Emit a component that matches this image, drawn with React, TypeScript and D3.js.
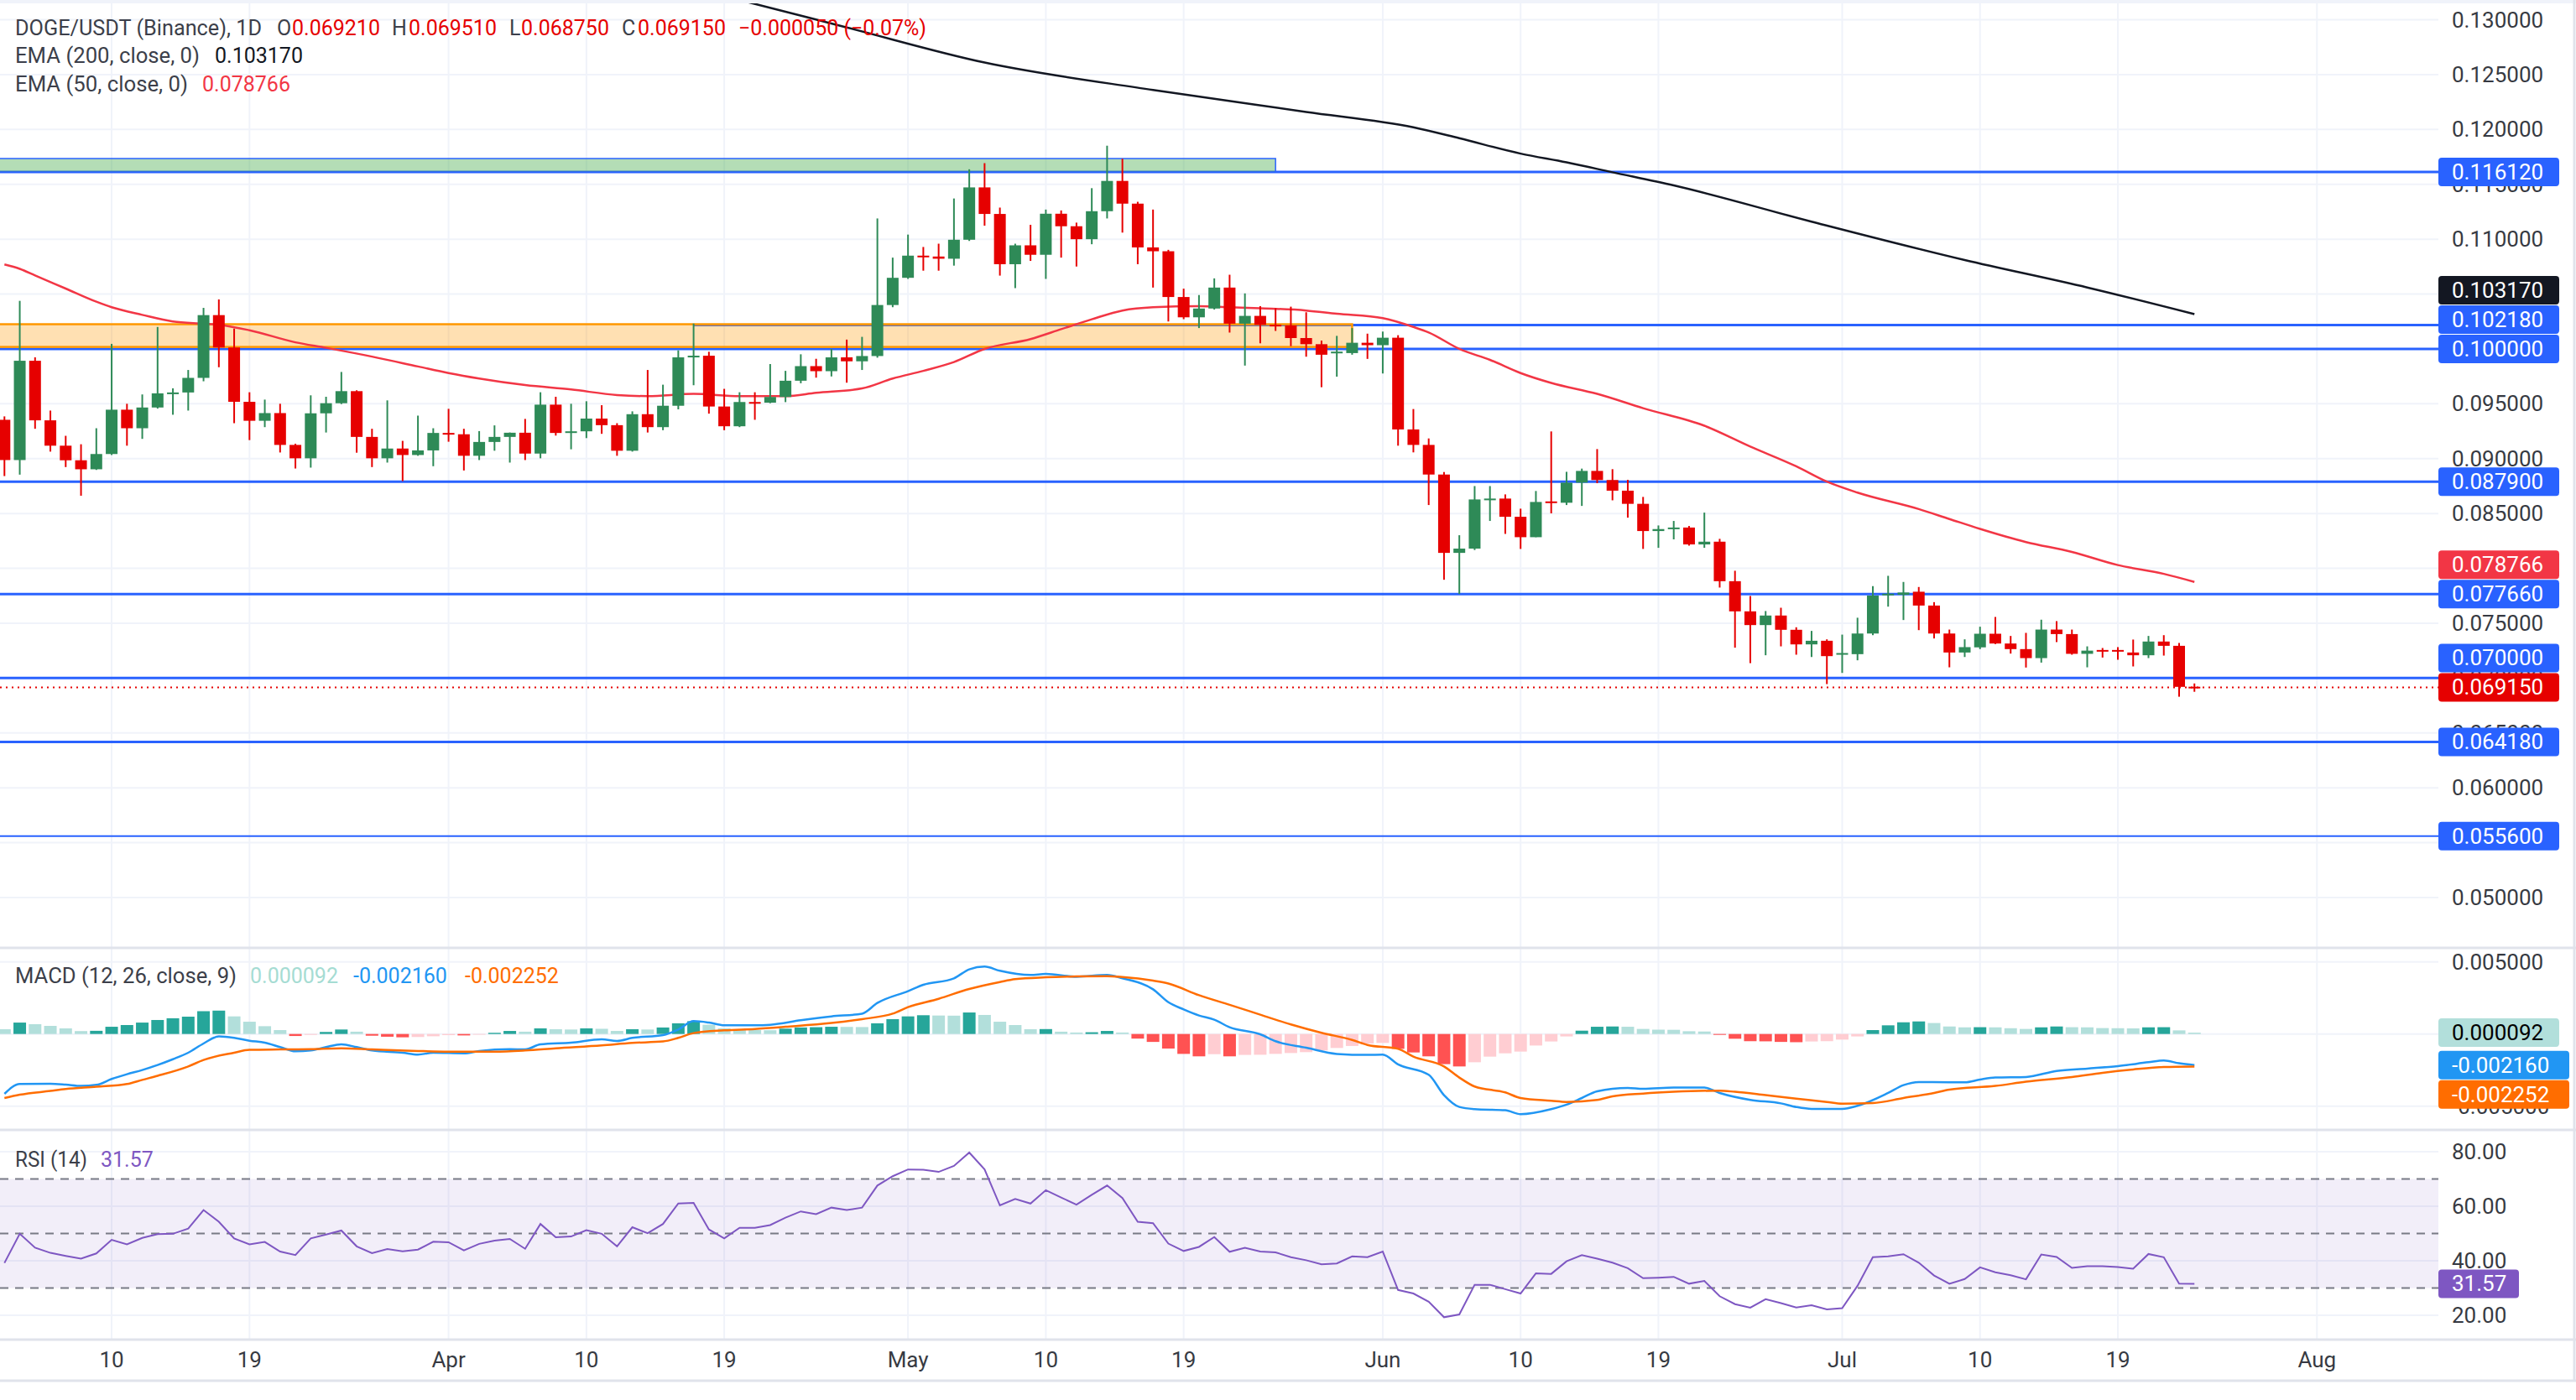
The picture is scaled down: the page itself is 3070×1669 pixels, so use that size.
import React from "react";
import * as d3 from "d3";

const W = 3070;
const H = 1669;
const PLOT_R = 2906;
const DAY = 86400000;
const START = Date.UTC(2023, 2, 3);
const FONT = "Roboto, 'Noto Sans', sans-serif";

const GREEN = "#2e8a57";
const RED = "#e60000";
const BLUE = "#2962ff";

// daily candles, starting 3 Mar
const opens = [
  0.09354, 0.08987, 0.09892, 0.09349, 0.09118, 0.08985, 0.08903, 0.09042, 0.09446, 0.09277,
  0.09466, 0.09595, 0.09603, 0.09736, 0.10308, 0.10013, 0.09518, 0.09345, 0.09415, 0.09125,
  0.09003, 0.09413, 0.09505, 0.09615, 0.09198, 0.09003, 0.09092, 0.09033, 0.09075, 0.09234,
  0.09222, 0.09026, 0.09152, 0.09198, 0.09236, 0.09046, 0.09492, 0.09234, 0.09249, 0.09365,
  0.09305, 0.09072, 0.09405, 0.09287, 0.09482, 0.09923, 0.09938, 0.09475, 0.09295, 0.09516,
  0.0951, 0.09562, 0.0971, 0.09843, 0.09797, 0.09923, 0.09887, 0.09935, 0.104, 0.10648,
  0.1085, 0.10842, 0.10822, 0.10995, 0.11472, 0.1123, 0.10772, 0.10944, 0.10858, 0.11232,
  0.11118, 0.11, 0.11255, 0.11531, 0.11324, 0.10925, 0.1089, 0.10473, 0.10288, 0.10368,
  0.10559, 0.1023, 0.10301, 0.1022, 0.10215, 0.10099, 0.10043, 0.0996, 0.09962, 0.10056,
  0.10034, 0.10102, 0.09266, 0.09125, 0.08855, 0.08141, 0.0818, 0.08628, 0.08636, 0.0847,
  0.08284, 0.0861, 0.08598, 0.08781, 0.08888, 0.08805, 0.08708, 0.08588, 0.0834, 0.08358,
  0.08372, 0.08218, 0.08243, 0.07883, 0.07608, 0.07483, 0.0757, 0.0744, 0.07307, 0.0734,
  0.07218, 0.07218, 0.07406, 0.07759, 0.07759, 0.07787, 0.07661, 0.07406, 0.07233, 0.0728,
  0.07404, 0.07315, 0.07264, 0.07182, 0.07442, 0.07401, 0.07221, 0.07256, 0.07256, 0.07233,
  0.07208, 0.07333, 0.07294, 0.06921,
];
const highs = [
  0.09385, 0.10438, 0.09923, 0.09438, 0.09208, 0.09131, 0.09277, 0.10046, 0.095, 0.09585,
  0.102, 0.09641, 0.09808, 0.10374, 0.10451, 0.10185, 0.09605, 0.09538, 0.095, 0.09136,
  0.09577, 0.09564, 0.0979, 0.09623, 0.09272, 0.09531, 0.09162, 0.09392, 0.09277, 0.09454,
  0.09272, 0.09251, 0.09303, 0.09238, 0.09362, 0.09605, 0.09564, 0.095, 0.09523, 0.09487,
  0.09323, 0.09431, 0.09808, 0.09674, 0.09987, 0.10231, 0.09974, 0.09636, 0.09605, 0.09605,
  0.09862, 0.098, 0.09951, 0.0991, 0.1, 0.10085, 0.1011, 0.11189, 0.10832, 0.11042,
  0.10929, 0.10959, 0.11371, 0.11637, 0.11693, 0.11288, 0.10959, 0.11131, 0.1127, 0.11262,
  0.11151, 0.11465, 0.11852, 0.11733, 0.11341, 0.1127, 0.10903, 0.10549, 0.10491, 0.10643,
  0.10676, 0.10506, 0.1039, 0.10372, 0.10385, 0.10334, 0.10076, 0.10119, 0.1019, 0.10139,
  0.10158, 0.10125, 0.09452, 0.09184, 0.08878, 0.08302, 0.0875, 0.0875, 0.08674, 0.08544,
  0.08705, 0.09248, 0.0888, 0.08909, 0.09087, 0.08904, 0.08807, 0.08651, 0.08391, 0.08432,
  0.08386, 0.08508, 0.08269, 0.07978, 0.07748, 0.07611, 0.07641, 0.07463, 0.0743, 0.07353,
  0.07396, 0.0755, 0.07838, 0.07932, 0.07876, 0.0783, 0.07692, 0.07442, 0.07353, 0.07468,
  0.07557, 0.07384, 0.07412, 0.07532, 0.07519, 0.07442, 0.07289, 0.07274, 0.07282, 0.07351,
  0.07384, 0.07391, 0.0732, 0.06951,
];
const lows = [
  0.08841, 0.08854, 0.09272, 0.09064, 0.08923, 0.08662, 0.08897, 0.09033, 0.09118, 0.0918,
  0.09456, 0.094, 0.09438, 0.09705, 0.09833, 0.09323, 0.09169, 0.09287, 0.09056, 0.0891,
  0.08918, 0.09238, 0.09497, 0.09054, 0.08923, 0.08964, 0.08795, 0.09026, 0.08931, 0.09154,
  0.08892, 0.08987, 0.09072, 0.08964, 0.08987, 0.09003, 0.0921, 0.09085, 0.09187, 0.09226,
  0.09026, 0.09064, 0.09238, 0.09259, 0.09449, 0.09669, 0.0941, 0.09259, 0.09287, 0.09354,
  0.09505, 0.09515, 0.09687, 0.09738, 0.09749, 0.09692, 0.09808, 0.0992, 0.1038, 0.10638,
  0.10713, 0.10713, 0.10759, 0.10984, 0.11123, 0.10668, 0.10554, 0.10802, 0.10638, 0.10832,
  0.10751, 0.10954, 0.11189, 0.1106, 0.10772, 0.10559, 0.1025, 0.10271, 0.1019, 0.10359,
  0.10149, 0.09848, 0.10051, 0.10164, 0.10025, 0.09929, 0.09651, 0.09747, 0.09947, 0.09909,
  0.09776, 0.09118, 0.09057, 0.08577, 0.07896, 0.07766, 0.08167, 0.08432, 0.08314, 0.08177,
  0.08284, 0.08501, 0.08577, 0.08569, 0.08776, 0.0862, 0.08462, 0.08177, 0.08187, 0.08264,
  0.08207, 0.08187, 0.07825, 0.07277, 0.07136, 0.07208, 0.07289, 0.07213, 0.07192, 0.06945,
  0.07047, 0.07162, 0.07391, 0.07651, 0.07529, 0.07437, 0.07361, 0.07098, 0.07192, 0.07264,
  0.0731, 0.07223, 0.07096, 0.07141, 0.07328, 0.07213, 0.07098, 0.07187, 0.07167, 0.07106,
  0.07182, 0.07205, 0.0683, 0.06875,
];
const closes = [
  0.08987, 0.09892, 0.09349, 0.09118, 0.08985, 0.08903, 0.09042, 0.09446, 0.09277, 0.09466,
  0.09595, 0.09603, 0.09736, 0.10308, 0.10013, 0.09518, 0.09345, 0.09415, 0.09125, 0.09003,
  0.09413, 0.09505, 0.09615, 0.09198, 0.09003, 0.09092, 0.09033, 0.09075, 0.09234, 0.09222,
  0.09026, 0.09152, 0.09198, 0.09236, 0.09046, 0.09492, 0.09234, 0.09249, 0.09365, 0.09305,
  0.09072, 0.09405, 0.09287, 0.09482, 0.09923, 0.09938, 0.09475, 0.09295, 0.09516, 0.0951,
  0.09562, 0.0971, 0.09843, 0.09797, 0.09923, 0.09887, 0.09935, 0.104, 0.10648, 0.1085,
  0.10842, 0.10822, 0.10995, 0.11472, 0.1123, 0.10772, 0.10944, 0.10858, 0.11232, 0.11118,
  0.11, 0.11255, 0.11531, 0.11324, 0.10925, 0.1089, 0.10473, 0.10288, 0.10368, 0.10559,
  0.1023, 0.10301, 0.1022, 0.10215, 0.10099, 0.10043, 0.09947, 0.09975, 0.10056, 0.10034,
  0.10102, 0.09266, 0.09125, 0.08855, 0.08141, 0.0818, 0.08628, 0.08636, 0.0847, 0.08284,
  0.08605, 0.08598, 0.08781, 0.08888, 0.08805, 0.08708, 0.08588, 0.0834, 0.08358, 0.08372,
  0.08218, 0.08243, 0.07883, 0.07608, 0.07483, 0.0757, 0.0744, 0.07307, 0.0734, 0.072,
  0.07228, 0.07406, 0.07752, 0.07769, 0.0778, 0.07661, 0.07406, 0.07233, 0.07282, 0.07404,
  0.07315, 0.07264, 0.07182, 0.07442, 0.07401, 0.07221, 0.0725, 0.07246, 0.07246, 0.07208,
  0.07333, 0.07294, 0.0692, 0.06915,
];

// [day index, value] readings of the moving averages
const ema50: [number, number][] = [
  [0, 0.1077], [1, 0.1073], [2, 0.1067], [4, 0.1055], [6, 0.1043], [7, 0.1038], [9, 0.1031],
  [11, 0.1025], [13, 0.1023], [14, 0.1022], [16, 0.1017], [19, 0.1006], [21, 0.1001], [24, 0.0993],
  [27, 0.0984], [29, 0.0978], [31, 0.0973], [34, 0.0967], [37, 0.0963], [40, 0.0958], [42, 0.0957],
  [45, 0.0959], [48, 0.0957], [51, 0.0957], [53, 0.096], [56, 0.0964], [58, 0.0973], [60, 0.098],
  [62, 0.0988], [64, 0.1], [67, 0.1009], [69, 0.1018], [71, 0.1027], [73, 0.1035], [75, 0.1038],
  [78, 0.1039], [80, 0.1038], [82, 0.1037], [85, 0.1035], [87, 0.1032], [90, 0.1028], [92, 0.102],
  [93, 0.1015], [95, 0.1], [97, 0.099], [99, 0.0978], [101, 0.0969], [104, 0.0959], [107, 0.0946],
  [111, 0.093], [114, 0.0911], [117, 0.0893], [119, 0.0879], [121, 0.0869], [125, 0.0854],
  [127, 0.0845], [129, 0.0836], [132, 0.0824], [135, 0.0815], [138, 0.0803], [141, 0.0795],
  [143, 0.078766],
];
const ema200: [number, number][] = [
  [40, 0.1345], [48, 0.1318], [55, 0.1293], [64, 0.1261], [75, 0.1236], [85, 0.1216],
  [92, 0.1202], [95, 0.1192], [99, 0.1178], [102, 0.117], [105, 0.1161], [109, 0.1149],
  [118, 0.1116], [128, 0.1081], [136, 0.1056], [143, 0.10317],
];

const macdHist = [
  0.00033, 0.00079, 0.00068, 0.00056, 0.00039, 0.0002, 0.00022, 0.0005, 0.00062, 0.00079,
  0.00097, 0.00109, 0.0012, 0.00158, 0.00162, 0.00122, 0.00085, 0.00054, 0.00027, -0.00014,
  -0.00006, 0.00014, 0.00031, 0.00016, -0.00012, -0.00019, -0.00023, -0.00021, -0.00016, -0.00008,
  -0.0001, -0.00005, 0.00008, 0.00021, 0.00016, 0.00039, 0.00033, 0.00031, 0.00039, 0.00036,
  0.00021, 0.00033, 0.00031, 0.00045, 0.00074, 0.00089, 0.00064, 0.00039, 0.00028, 0.00027,
  0.00026, 0.00037, 0.00045, 0.00047, 0.0005, 0.00049, 0.00048, 0.00074, 0.00103, 0.00122,
  0.0013, 0.00128, 0.00127, 0.00149, 0.00132, 0.00085, 0.00062, 0.00033, 0.00034, 0.00016,
  0.0001, 0.00012, 0.00021, 0.0001, -0.00032, -0.00055, -0.00101, -0.00138, -0.00155, -0.0014,
  -0.00155, -0.00145, -0.00144, -0.00138, -0.00132, -0.00126, -0.00114, -0.00097, -0.00083, -0.00066,
  -0.00062, -0.00103, -0.00128, -0.00155, -0.00209, -0.00225, -0.00196, -0.00157, -0.00134, -0.00122,
  -0.0008, -0.00052, -0.00017, 0.00023, 0.0005, 0.00052, 0.0005, 0.00035, 0.0003, 0.00029,
  0.00019, 0.00017, -0.00006, -0.00033, -0.0005, -0.00051, -0.00055, -0.00057, -0.00052, -0.0005,
  -0.00039, -0.00017, 0.00027, 0.0006, 0.00081, 0.00087, 0.00076, 0.00052, 0.00046, 0.00047,
  0.00046, 0.0004, 0.00035, 0.00046, 0.00052, 0.00047, 0.00046, 0.00041, 0.0004, 0.00039,
  0.00046, 0.00047, 0.00025, 0.000092,
];
const macdLine: [number, number][] = [
  [0, -0.00415], [1, -0.00347], [3, -0.00345], [4, -0.00351], [5, -0.0036], [6, -0.00353],
  [7, -0.00312], [8, -0.00279], [9, -0.0025], [10, -0.00215], [11, -0.00175], [12, -0.0013],
  [13, -0.00066], [14, -0.00017], [15, -0.00027], [16, -0.00047], [17, -0.0006], [18, -0.00091],
  [19, -0.0012], [20, -0.00114], [21, -0.00091], [22, -0.00072], [23, -0.00091], [24, -0.00114],
  [26, -0.0013], [27, -0.00143], [28, -0.0013], [30, -0.00134], [31, -0.00118], [33, -0.00105],
  [34, -0.00107], [35, -0.00072], [37, -0.0006], [39, -0.00037], [40, -0.00048], [41, -0.00027],
  [43, -0.00008], [44, 0.00031], [45, 0.00089], [46, 0.00079], [47, 0.0006], [49, 0.0006],
  [50, 0.00064], [52, 0.00095], [54, 0.00122], [56, 0.00141], [57, 0.00215], [59, 0.00297],
  [60, 0.00341], [62, 0.00386], [63, 0.00448], [64, 0.00467], [65, 0.00438], [67, 0.00409],
  [68, 0.00417], [70, 0.00397], [72, 0.00409], [73, 0.00386], [75, 0.0031], [76, 0.0022],
  [77, 0.0017], [78, 0.00128], [79, 0.00099], [80, 0.00047], [82, -0.00002], [83, -0.0005],
  [85, -0.00095], [87, -0.00138], [89, -0.00145], [90, -0.00143], [91, -0.00211], [93, -0.00283],
  [94, -0.00424], [95, -0.00506], [96, -0.00521], [98, -0.00529], [99, -0.00556], [101, -0.00521],
  [102, -0.0049], [103, -0.00444], [104, -0.00397], [106, -0.00374], [107, -0.0038], [109, -0.00372],
  [111, -0.00372], [112, -0.00409], [114, -0.00457], [116, -0.00481], [117, -0.00506], [118, -0.00519],
  [120, -0.00519], [121, -0.00498], [123, -0.00409], [124, -0.00355], [125, -0.00333], [127, -0.00335],
  [128, -0.00335], [129, -0.00316], [130, -0.00302], [132, -0.00298], [134, -0.00256], [136, -0.0024],
  [138, -0.00223], [140, -0.00196], [141, -0.00184], [142, -0.00203], [143, -0.00216],
];
const signalLine: [number, number][] = [
  [0, -0.00444], [1, -0.00421], [3, -0.00395], [4, -0.00382], [6, -0.00366], [8, -0.00347],
  [9, -0.00318], [10, -0.0029], [12, -0.00225], [13, -0.0018], [15, -0.0013], [16, -0.0011],
  [18, -0.00107], [20, -0.00105], [22, -0.00099], [24, -0.00107], [27, -0.00118], [29, -0.00122],
  [32, -0.00122], [34, -0.00114], [36, -0.00099], [39, -0.00079], [41, -0.00062], [43, -0.00052],
  [44, -0.00027], [45, 0.00006], [47, 0.00025], [49, 0.00035], [51, 0.0005], [54, 0.00076],
  [56, 0.00103], [58, 0.00141], [59, 0.00186], [61, 0.00244], [63, 0.00312], [65, 0.0036],
  [66, 0.0038], [68, 0.00393], [70, 0.00399], [72, 0.00401], [73, 0.00395], [75, 0.0037],
  [76, 0.0035], [78, 0.00269], [80, 0.00202], [82, 0.00134], [84, 0.00066], [86, 0.00008],
  [88, -0.00041], [89, -0.00076], [91, -0.00103], [92, -0.00157], [94, -0.00225], [95, -0.00302],
  [96, -0.00364], [98, -0.00405], [99, -0.00444], [101, -0.00463], [102, -0.00471], [104, -0.00457],
  [105, -0.00432], [107, -0.00413], [109, -0.00401], [112, -0.00393], [113, -0.00401], [115, -0.00424],
  [117, -0.00448], [119, -0.00471], [120, -0.00483], [122, -0.00479], [124, -0.00444], [126, -0.00409],
  [127, -0.00386], [130, -0.0036], [132, -0.00331], [135, -0.00298], [137, -0.00269], [139, -0.00246],
  [141, -0.00229], [143, -0.002252],
];

const rsi = [
  39.2, 49.9, 44.8, 42.9, 41.8, 40.8, 42.7, 47.7, 46.0, 48.4,
  49.8, 49.9, 51.8, 58.6, 54.3, 48.2, 46.0, 46.9, 43.4, 42.1,
  48.2, 49.6, 51.1, 45.3, 42.8, 44.3, 43.5, 44.1, 47.0, 46.8,
  43.8, 46.2, 47.4, 48.0, 44.4, 53.5, 48.6, 48.9, 51.2, 49.9,
  45.3, 52.3, 50.1, 53.5, 61.0, 61.2, 51.5, 48.2, 52.1, 52.1,
  53.1, 55.8, 58.1, 57.1, 59.5, 58.6, 59.5, 67.6, 71.0, 73.5,
  73.4, 72.6, 74.8, 79.7, 73.5, 60.3, 62.7, 61.0, 65.9, 63.2,
  60.6, 64.2, 67.6, 63.0, 54.3, 53.8, 46.3, 43.6, 45.1, 48.7,
  43.3, 44.8, 43.4, 43.1, 41.3, 40.2, 38.7, 39.0, 41.6, 41.3,
  43.4, 29.3, 28.0, 25.0, 19.3, 20.3, 31.2, 31.2, 29.6, 28.0,
  35.4, 35.2, 39.8, 42.1, 40.8, 39.3, 37.3, 33.6, 33.8, 34.1,
  31.6, 32.6, 27.0, 24.1, 22.8, 25.9, 24.5, 22.9, 23.7, 22.2,
  22.6, 30.8, 41.3, 41.6, 42.4, 39.3, 34.6, 31.6, 33.3, 37.6,
  35.8, 34.7, 33.2, 42.3, 41.4, 37.4, 38.0, 38.0, 37.7, 37.1,
  42.5, 41.3, 31.6, 31.57,
];

// horizontal levels and the day index they start from
const levels = [0.11612, 0.10218, 0.1, 0.0879, 0.07766, 0.07, 0.06418, 0.0556];
const levelStart = [-5, 45, -5, -5, -5, -5, -5, -5];
const lastPrice = 0.06915;

const greenZone = { lo: 0.11612, hi: 0.11735, end: 83 };
const orangeZone = { lo: 0.10018, hi: 0.10225, end: 88 };

const priceTicks = [0.13, 0.125, 0.12, 0.115, 0.11, 0.105, 0.1, 0.095, 0.09, 0.085, 0.08, 0.075, 0.07, 0.065, 0.06, 0.055, 0.05];
const macdTicks = [0.005, 0, -0.005];
const rsiTicks = [80, 60, 40, 20];
const rsiBands = [70, 50, 30];

const dateTicks = [
  "2023-03-10", "2023-03-19", "2023-04-01", "2023-04-10", "2023-04-19", "2023-05-01", "2023-05-10",
  "2023-05-19", "2023-06-01", "2023-06-10", "2023-06-19", "2023-07-01", "2023-07-10", "2023-07-19",
  "2023-08-01",
];
const dateLabels = ["10", "19", "Apr", "10", "19", "May", "10", "19", "Jun", "10", "19", "Jul", "10", "19", "Aug"];

const parse = d3.utcParse("%Y-%m-%d");
const x = d3
  .scaleUtc()
  .domain([new Date(START - 0.29 * DAY), new Date(START + 158.93 * DAY)])
  .range([0, PLOT_R]);
const xi = (i: number) => x(new Date(START + i * DAY));

const yP = d3.scaleLinear().domain([0.04541, 0.1318]).range([1130, 0]);
const yM = d3.scaleLinear().domain([-0.00665, 0.00597]).range([1347, 1130]);
const yR = d3.scaleLinear().domain([11.4, 88]).range([1596, 1347]);

const fmt6 = (v: number) => v.toFixed(6);

type Tag = { v: number; y: number; bg: string; fg: string; text: string; w: number };

function stack(tags: Tag[], dir: "up" | "down", gap = 35) {
  const s = [...tags].sort((a, b) => a.y - b.y);
  if (dir === "up") {
    for (let i = s.length - 2; i >= 0; i--) s[i].y = Math.min(s[i].y, s[i + 1].y - gap);
  } else {
    for (let i = 1; i < s.length; i++) s[i].y = Math.max(s[i].y, s[i - 1].y + gap);
  }
  return s;
}

function TagBox({ t }: { t: Tag }) {
  return (
    <g>
      <rect x={PLOT_R} y={t.y - 17} width={t.w} height={34} rx={4} fill={t.bg} />
      <text x={PLOT_R + 16} y={t.y} dominantBaseline="central" fontSize={26} fill={t.fg} fontFamily={FONT}>
        {t.text}
      </text>
    </g>
  );
}

// a tick label fully under a tag is not drawn (the tag covers it)
const covered = (y: number, tags: Tag[]) => tags.some((t) => Math.abs(t.y - y) < 9);

export default function App() {
  const lineP = d3
    .line<[number, number]>()
    .x((d) => xi(d[0]))
    .y((d) => yP(d[1]))
    .curve(d3.curveMonotoneX);
  const lineM = d3
    .line<[number, number]>()
    .x((d) => xi(d[0]))
    .y((d) => yM(d[1]))
    .curve(d3.curveMonotoneX);
  const lineR = d3
    .line<number>()
    .x((_, i) => xi(i))
    .y((d) => yR(d));

  const ema200Last = ema200[ema200.length - 1][1];
  const ema50Last = ema50[ema50.length - 1][1];

  const priceTags = stack(
    [
      ...levels.map((v) => ({ v, y: yP(v), bg: BLUE, fg: "#fff", text: fmt6(v), w: 144 })),
      { v: ema200Last, y: yP(ema200Last), bg: "#131722", fg: "#fff", text: fmt6(ema200Last), w: 144 },
      { v: ema50Last, y: yP(ema50Last), bg: "#f23645", fg: "#fff", text: fmt6(ema50Last), w: 144 },
      { v: lastPrice, y: yP(lastPrice), bg: RED, fg: "#fff", text: fmt6(lastPrice), w: 144 },
    ],
    "up"
  );
  const histLast = macdHist[macdHist.length - 1];
  const macdLast = macdLine[macdLine.length - 1][1];
  const sigLast = signalLine[signalLine.length - 1][1];
  const macdTags = stack(
    [
      { v: histLast, y: yM(histLast), bg: "#b2dfdb", fg: "#000", text: fmt6(histLast), w: 144 },
      { v: macdLast, y: yM(macdLast), bg: "#2196f3", fg: "#fff", text: fmt6(macdLast), w: 156 },
      { v: sigLast, y: yM(sigLast), bg: "#ff6d00", fg: "#fff", text: fmt6(sigLast), w: 156 },
    ],
    "down"
  );
  const rsiLast = rsi[rsi.length - 1];
  const rsiTag: Tag = { v: rsiLast, y: yR(rsiLast), bg: "#7e57c2", fg: "#fff", text: rsiLast.toFixed(2), w: 96 };

  const gridColor = "#f0f3fa";
  const textColor = "#131722";
  const legendColor = "#3c3f4a";

  return (
    <svg
      width={W}
      height={H}
      viewBox={`0 0 ${W} ${H}`}
      style={{ position: "absolute", left: 0, top: 0, background: "#fff" }}
      fontFamily={FONT}
    >
      <defs>
        <clipPath id="clipP">
          <rect x={0} y={0} width={PLOT_R} height={1130} />
        </clipPath>
        <clipPath id="clipM">
          <rect x={0} y={1130} width={PLOT_R} height={217} />
        </clipPath>
        <clipPath id="clipR">
          <rect x={0} y={1347} width={PLOT_R} height={249} />
        </clipPath>
      </defs>
      <rect x={0} y={0} width={W} height={H} fill="#fff" />

      {/* grid */}
      {dateTicks.map((d) => {
        const xx = x(parse(d) as Date);
        return <line key={d} x1={xx} x2={xx} y1={0} y2={1596} stroke={gridColor} strokeWidth={2} />;
      })}
      {priceTicks.map((v) => (
        <line key={v} x1={0} x2={PLOT_R} y1={yP(v)} y2={yP(v)} stroke={gridColor} strokeWidth={2} />
      ))}
      {macdTicks.map((v) => (
        <line key={v} x1={0} x2={PLOT_R} y1={yM(v)} y2={yM(v)} stroke={gridColor} strokeWidth={2} />
      ))}
      {rsiTicks.map((v) => (
        <line key={v} x1={0} x2={PLOT_R} y1={yR(v)} y2={yR(v)} stroke={gridColor} strokeWidth={2} />
      ))}

      {/* price pane */}
      <g clipPath="url(#clipP)">
        {levels.map((v, i) => (
          <line
            key={v}
            x1={Math.max(0, xi(levelStart[i]))}
            x2={PLOT_R}
            y1={yP(v)}
            y2={yP(v)}
            stroke={BLUE}
            strokeWidth={v === 0.0556 ? 2 : 3}
          />
        ))}
        <rect
          x={-2}
          y={yP(greenZone.hi)}
          width={xi(greenZone.end) + 2}
          height={yP(greenZone.lo) - yP(greenZone.hi)}
          fill="rgba(76,175,80,0.42)"
          stroke={BLUE}
          strokeWidth={1.5}
        />
        <rect
          x={-2}
          y={yP(orangeZone.hi)}
          width={xi(orangeZone.end) + 2}
          height={yP(orangeZone.lo) - yP(orangeZone.hi)}
          fill="rgba(255,152,0,0.3)"
          stroke="#ff9800"
          strokeWidth={2.5}
        />
        <path d={lineP(ema200) || ""} fill="none" stroke="#131722" strokeWidth={2.5} />
        <path d={lineP(ema50) || ""} fill="none" stroke="#f23645" strokeWidth={2.5} />
        {opens.map((o, i) => {
          const c = closes[i];
          const col = c >= o ? GREEN : RED;
          const cx = xi(i);
          const top = yP(Math.max(o, c));
          const bot = yP(Math.min(o, c));
          return (
            <g key={i}>
              <line x1={cx} x2={cx} y1={yP(highs[i])} y2={yP(lows[i])} stroke={col} strokeWidth={2} />
              <rect x={cx - 7} y={top} width={14} height={Math.max(2, bot - top)} fill={col} />
            </g>
          );
        })}
        <line
          x1={0}
          x2={PLOT_R}
          y1={yP(lastPrice)}
          y2={yP(lastPrice)}
          stroke={RED}
          strokeWidth={2}
          strokeDasharray="2 5"
        />
      </g>

      {/* MACD pane */}
      <g clipPath="url(#clipM)">
        {macdHist.map((h, i) => {
          const prev = i === 0 ? Infinity : macdHist[i - 1];
          const col = h >= 0 ? (h >= prev ? "#26a69a" : "#b2dfdb") : h < prev ? "#ff5252" : "#ffcdd2";
          const y0 = yM(0);
          const y1 = yM(h);
          return (
            <rect key={i} x={xi(i) - 7.5} y={Math.min(y0, y1)} width={15} height={Math.abs(y1 - y0)} fill={col} />
          );
        })}
        <path d={lineM(macdLine) || ""} fill="none" stroke="#2196f3" strokeWidth={2.5} />
        <path d={lineM(signalLine) || ""} fill="none" stroke="#ff6d00" strokeWidth={2.5} />
      </g>

      {/* RSI pane */}
      <g clipPath="url(#clipR)">
        <rect x={0} y={yR(70)} width={PLOT_R} height={yR(30) - yR(70)} fill="rgba(126,87,194,0.1)" />
        {rsiBands.map((v) => (
          <line
            key={v}
            x1={0}
            x2={PLOT_R}
            y1={yR(v)}
            y2={yR(v)}
            stroke="#787b86"
            strokeWidth={2}
            strokeDasharray="10 8"
          />
        ))}
        <path d={lineR(rsi) || ""} fill="none" stroke="#7e57c2" strokeWidth={2} />
      </g>

      {/* pane separators */}
      <line x1={0} x2={W} y1={2} y2={2} stroke="#f0f3fa" strokeWidth={4} />
      <line x1={0} x2={W} y1={1130} y2={1130} stroke="#e0e3eb" strokeWidth={3} />
      <line x1={0} x2={W} y1={1347} y2={1347} stroke="#e0e3eb" strokeWidth={3} />
      <line x1={0} x2={W} y1={1597} y2={1597} stroke="#e0e3eb" strokeWidth={3} />
      <line x1={0} x2={W} y1={1646} y2={1646} stroke="#e0e3eb" strokeWidth={3} />
      <line x1={W - 2} x2={W - 2} y1={0} y2={1646} stroke="#e0e3eb" strokeWidth={3} />

      {/* axis ticks */}
      <g fontSize={26} fill={textColor} opacity={0.85}>
        {priceTicks
          .filter((v) => !covered(yP(v), priceTags))
          .map((v) => (
            <text key={v} x={PLOT_R + 16} y={yP(v)} dominantBaseline="central">
              {fmt6(v)}
            </text>
          ))}
        {macdTicks
          .filter((v) => !covered(yM(v), macdTags))
          .map((v) => (
            <text key={v} x={PLOT_R + 16} y={yM(v)} dominantBaseline="central">
              {fmt6(v)}
            </text>
          ))}
        {rsiTicks.map((v) => (
          <text key={v} x={PLOT_R + 16} y={yR(v)} dominantBaseline="central">
            {v.toFixed(2)}
          </text>
        ))}
        {dateTicks.map((d, i) => (
          <text key={d} x={x(parse(d) as Date)} y={1621} textAnchor="middle" dominantBaseline="central">
            {dateLabels[i]}
          </text>
        ))}
      </g>

      {/* value tags */}
      {priceTags.map((t) => (
        <TagBox key={t.text + t.bg} t={t} />
      ))}
      {macdTags.map((t) => (
        <TagBox key={t.text} t={t} />
      ))}
      <TagBox t={rsiTag} />

      {/* legends */}
      <g fontSize={25} dominantBaseline="central">
        <text x={18} y={33} fill={legendColor} textLength={294} lengthAdjust="spacingAndGlyphs">
          DOGE/USDT (Binance), 1D
        </text>
        <text x={330} y={33} fill={legendColor}>O</text>
        <text x={348} y={33} fill={RED}>0.069210</text>
        <text x={467} y={33} fill={legendColor}>H</text>
        <text x={487} y={33} fill={RED}>0.069510</text>
        <text x={607} y={33} fill={legendColor}>L</text>
        <text x={621} y={33} fill={RED}>0.068750</text>
        <text x={741} y={33} fill={legendColor}>C</text>
        <text x={760} y={33} fill={RED}>0.069150</text>
        <text x={880} y={33} fill={RED}>−0.000050 (−0.07%)</text>

        <text x={18} y={66} fill={legendColor} textLength={220} lengthAdjust="spacingAndGlyphs">
          EMA (200, close, 0)
        </text>
        <text x={256} y={66} fill="#131722">0.103170</text>
        <text x={18} y={100} fill={legendColor} textLength={206} lengthAdjust="spacingAndGlyphs">
          EMA (50, close, 0)
        </text>
        <text x={241} y={100} fill="#f23645">0.078766</text>

        <text x={18} y={1163} fill={legendColor} textLength={264} lengthAdjust="spacingAndGlyphs">
          MACD (12, 26, close, 9)
        </text>
        <text x={298} y={1163} fill="#a5dcd3">0.000092</text>
        <text x={421} y={1163} fill="#2196f3">-0.002160</text>
        <text x={554} y={1163} fill="#ff6d00">-0.002252</text>

        <text x={18} y={1382} fill={legendColor} textLength={86} lengthAdjust="spacingAndGlyphs">
          RSI (14)
        </text>
        <text x={120} y={1382} fill="#7e57c2">31.57</text>
      </g>
    </svg>
  );
}
